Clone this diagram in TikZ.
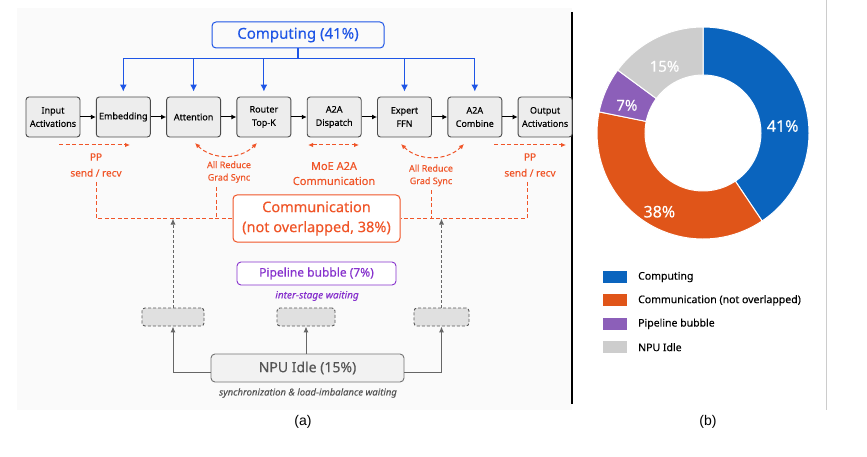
\documentclass[tikz,border=0pt]{standalone}
\usepackage{fontspec}
\setmainfont{Noto Sans}[UprightFeatures={FakeBold=0.25}, ItalicFeatures={FakeBold=0.25}]
\newfontfamily\capfont{Liberation Sans}
\usepackage{xcolor}
\usepackage{tikz}
\usetikzlibrary{arrows.meta, positioning, calc}
\definecolor{diagblue}{RGB}{30,85,230}
\definecolor{diagred}{RGB}{240,85,40}
\definecolor{diagpurple}{RGB}{135,50,205}
\definecolor{idletext}{RGB}{85,85,85}
\definecolor{compblue}{RGB}{10,100,190}
\definecolor{commorange}{RGB}{224,85,25}
\definecolor{bubblepurple}{RGB}{140,95,185}
\definecolor{idlegray}{RGB}{205,205,205}
\tikzset{
    stage/.style={rectangle, draw=black!70, fill=black!7, rounded corners=3pt, line width=0.9pt, minimum width=54pt, minimum height=40pt, inner sep=1pt, align=center, font=\fontsize{9}{13.3}\selectfont},
    flow/.style={-{Latex[length=5pt,width=5pt]}, line width=1pt},
    compline/.style={draw=diagblue, line width=1.1pt},
    comparrow/.style={compline, -{Latex[length=7pt,width=7pt]}},
    commarrow/.style={draw=diagred, line width=1pt, dash pattern=on 4pt off 2.5pt},
    commlabel/.style={text=diagred, align=center, inner sep=1pt},
    idlearrow/.style={draw=black!60, line width=1pt, -{Latex[length=6pt,width=5pt]}},
    slot/.style={rectangle, draw=black!65, fill=black!12, dash pattern=on 3pt off 2pt, rounded corners=3pt, line width=0.9pt, minimum height=18pt},
    keybox/.style={minimum width=24pt, minimum height=12pt, inner sep=0pt}
}

\begin{document}
\begin{tikzpicture}[x=1pt, y=-1pt]
    \useasboundingbox (0,0) rectangle (867,457);
    % panel frames
    \fill[black!2] (17,8) rectangle (572,410);
    \draw[line width=1.2pt] (572,12) -- (572,404);
    \draw[black!20, line width=0.6pt] (826,0) -- (826,410);

    % Computing
    \node (computing) [rectangle, draw=diagblue, rounded corners=4pt, line width=1pt, minimum width=172pt, minimum height=26pt, text=diagblue, font=\fontsize{15}{18}\selectfont] at (298,35) {Computing (41\%)};

    % Pipeline stages
    \node (input) [stage] at (53,117) {Input\\Activations};
    \node (embed) [stage, right=15.4pt of input] {Embedding};
    \node (attn) [stage, right=15.4pt of embed] {Attention};
    \node (router) [stage, right=15.4pt of attn] {Router\\Top-K};
    \node (dispatch) [stage, right=15.4pt of router] {A2A\\Dispatch};
    \node (expert) [stage, right=15.4pt of dispatch] {Expert\\FFN};
    \node (combine) [stage, right=15.4pt of expert] {A2A\\Combine};
    \node (output) [stage, right=15.4pt of combine] {Output\\Activations};
    \foreach \a/\b in {input/embed, embed/attn, attn/router, router/dispatch, dispatch/expert, expert/combine, combine/output}
        \draw[flow] (\a) -- (\b);

    % Computing bus
    \draw[compline] (computing.south) -- ++(0,10) coordinate (bus);
    \draw[compline] (bus -| embed.north) -- (bus -| combine.north);
    \foreach \n in {embed, attn, router, expert, combine}
        \draw[comparrow] (bus -| \n.north) -- ([yshift=5pt]\n.north);

    % Communication arrows
    \coordinate (ppl-a) at (59,145);
    \coordinate (ppl-b) at (130,145);
    \coordinate (arl-a) at (195,143);
    \coordinate (arl-b) at (257,143);
    \coordinate (moe-a) at (308,145);
    \coordinate (moe-b) at (359,145);
    \coordinate (arr-a) at (401,144);
    \coordinate (arr-b) at (464,144);
    \coordinate (ppr-a) at (494,145);
    \coordinate (ppr-b) at (566,145);
    \draw[commarrow, -{Latex[length=5pt,width=4.5pt]}] (ppl-a) -- (ppl-b);
    \draw[commarrow, {Latex[length=5pt,width=4.5pt]}-{Latex[length=5pt,width=4.5pt]}] (arl-a) to[bend right=45] (arl-b);
    \draw[commarrow, {Latex[length=5pt,width=4.5pt]}-{Latex[length=5pt,width=4.5pt]}] (moe-a) -- (moe-b);
    \draw[commarrow, {Latex[length=5pt,width=4.5pt]}-{Latex[length=5pt,width=4.5pt]}] (arr-a) to[bend right=45] (arr-b);
    \draw[commarrow, -{Latex[length=5pt,width=4.5pt]}] (ppr-a) -- (ppr-b);

    \node (ppl) [commlabel, font=\fontsize{10}{16}\selectfont] at (96,165) {PP\\send / recv};
    \node (arl) [commlabel, font=\fontsize{9}{12.5}\selectfont] at (229,172) {All Reduce\\Grad Sync};
    \node (moe) [commlabel, font=\fontsize{11}{15}\selectfont] at (334,173.5) {MoE A2A\\Communication};
    \node (arr) [commlabel, font=\fontsize{9}{12.5}\selectfont] at (431,175.5) {All Reduce\\Grad Sync};
    \node (ppr) [commlabel, font=\fontsize{10}{16}\selectfont] at (530,165) {PP\\send / recv};

    % Communication box
    \node (comm) [rectangle, draw=diagred, fill=white, rounded corners=4pt, line width=1pt, minimum width=167pt, minimum height=47pt, text=diagred, align=center, font=\fontsize{14.5}{20}\selectfont] at (316.5,218.5) {Communication\\(not overlapped, 38\%)};
    \draw[commarrow] ([yshift=-4pt]ppl.south) |- (comm.west);
    \draw[commarrow] ([xshift=-13pt,yshift=-3pt]arl.south) -- ([xshift=-13pt]arl.south |- comm.west);
    \draw[commarrow] ([yshift=-3pt]arr.south) -- (arr.south |- comm.east);
    \draw[commarrow] ([xshift=-3pt,yshift=-4pt]ppr.south) |- (comm.east);

    % Pipeline bubble
    \node (bubble) [rectangle, draw=diagpurple, fill=white, rounded corners=4pt, line width=0.9pt, minimum width=159pt, minimum height=23pt, text=diagpurple, font=\fontsize{12}{14}\selectfont] at (316.5,273.5) {Pipeline bubble (7\%)};
    \node (bubble-note) [text=diagpurple, font=\fontsize{10}{12}\selectfont\itshape] at (317,296) {inter-stage waiting};

    % Idle slots
    \node (slotl) [slot, minimum width=62pt] at (173,317) {};
    \node (slotm) [slot, minimum width=58pt] at (306,317) {};
    \node (slotr) [slot, minimum width=55pt] at (441.5,317) {};
    \draw[idlearrow, dash pattern=on 3pt off 2pt] (slotl.north) -- (slotl.north |- comm.west);
    \draw[idlearrow, dash pattern=on 3pt off 2pt] (slotr.north) -- (slotr.north |- comm.east);

    % NPU Idle
    \node (idle) [rectangle, draw=black!55, fill=black!5, rounded corners=4pt, line width=0.9pt, minimum width=193pt, minimum height=28pt, text=idletext, font=\fontsize{14}{16}\selectfont] at (307.5,368) {NPU Idle (15\%)};
    \node (idle-note) [text=idletext, font=\fontsize{9.5}{11}\selectfont\itshape] at (308,393) {synchronization \& load-imbalance waiting};
    \draw[idlearrow] ([yshift=-4pt]idle.west) -| (slotl.south);
    \draw[idlearrow] (slotm.south |- idle.north) -- (slotm.south);
    \draw[idlearrow] ([yshift=-4pt]idle.east) -| (slotr.south);

    \node (cap-a) [font=\capfont\fontsize{14}{16}\selectfont] at (303,422) {(a)};

    % Donut chart
    \begin{scope}[shift={(703,133)}, yscale=-1]
        \foreach \a/\b/\c in {90/-56.1/compblue, -56.1/-191.5/commorange, -191.5/-216.4/bubblepurple, -216.4/-270/idlegray}
            \filldraw[fill=\c, draw=white, line width=1pt] (\a:106) arc[start angle=\a, end angle=\b, radius=106] -- (\b:58) arc[start angle=\b, end angle=\a, radius=58] -- cycle;
        \node (pct-comp) [text=white, font=\fontsize{16}{18}\selectfont] at (5:80) {41\%};
        \node (pct-comm) [text=white, font=\fontsize{16}{18}\selectfont] at (241:90) {38\%};
        \node (pct-bubble) [text=white, font=\fontsize{15}{18}\selectfont] at (160:81) {7\%};
        \node (pct-idle) [text=white, font=\fontsize{15}{18}\selectfont] at (120:77) {15\%};
    \end{scope}

    % Legend
    \foreach \c/\t [count=\i] in {compblue/Computing, commorange/Communication (not overlapped), bubblepurple/Pipeline bubble, idlegray/NPU Idle} {
        \node (key\i) [keybox, fill=\c] at (615,{277+23.4*(\i-1)}) {};
        \node (keytext\i) [anchor=west, font=\fontsize{10.5}{12}\selectfont, inner sep=0pt] at (638,{277+23.4*(\i-1)}) {\t};
    }

    \node (cap-b) [font=\capfont\fontsize{14}{16}\selectfont] at (708,422) {(b)};
\end{tikzpicture}
\end{document}
